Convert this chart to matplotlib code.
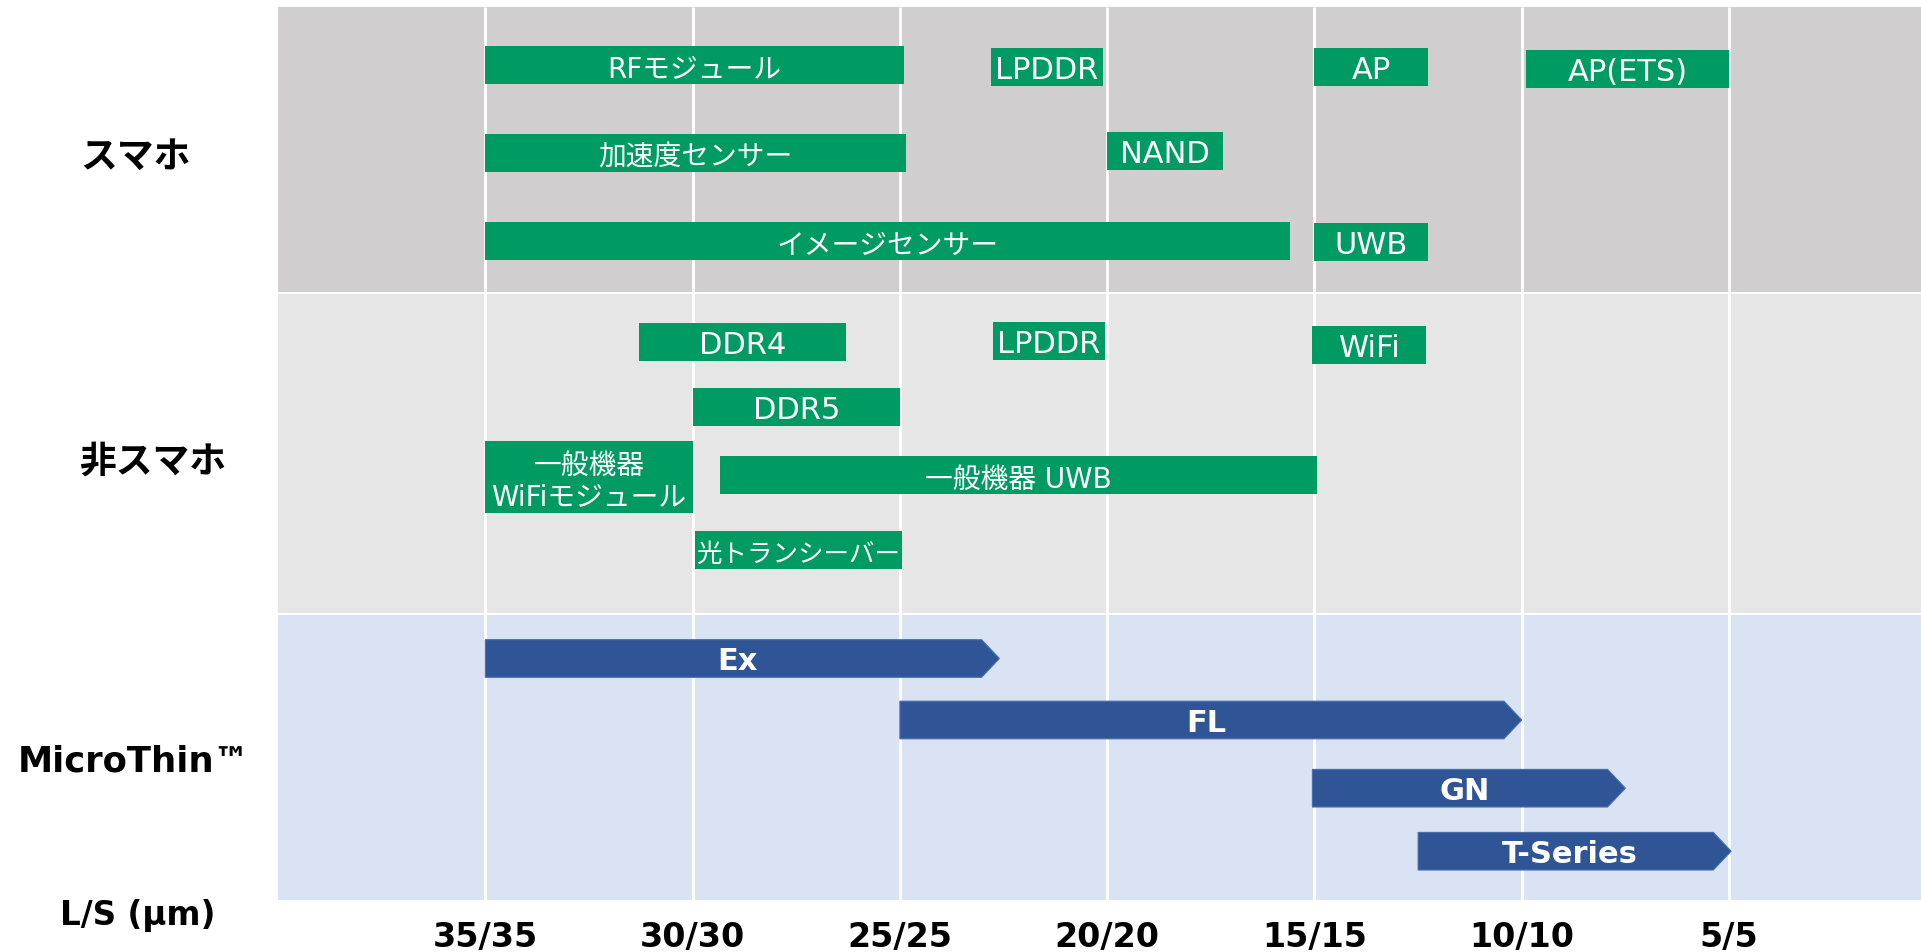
import matplotlib
matplotlib.use("Agg")
import matplotlib.pyplot as plt
from matplotlib.patches import Rectangle, Polygon

# ---------------- data ----------------
categories = ['スマホ', '非スマホ', 'MicroThin™']
axis_title = 'L/S (μm)'

tick_values = [35, 30, 25, 20, 15, 10, 5]
tick_labels = ['35/35', '30/30', '25/25', '20/20', '15/15', '10/10', '5/5']

smart_labels = ['RFモジュール', 'LPDDR', 'AP', 'AP(ETS)', '加速度センサー', 'NAND',
                'イメージセンサー', 'UWB']
smart_start = [35.0, 22.8, 15.0, 9.9, 35.0, 20.0, 35.0, 15.0]
smart_end = [24.9, 20.1, 12.25, 5.0, 24.85, 17.2, 15.6, 12.25]

non_labels = ['DDR4', 'LPDDR', 'WiFi', 'DDR5', '一般機器\nWiFiモジュール',
              '一般機器 UWB', '光トランシーバー']
non_start = [31.3, 22.75, 15.05, 30.0, 35.0, 29.35, 29.95]
non_end = [26.3, 20.05, 12.3, 25.0, 30.0, 14.95, 24.95]

mt_labels = ['Ex', 'FL', 'GN', 'T-Series']
mt_start = [35.0, 25.0, 15.05, 12.5]
mt_end = [22.6, 10.0, 7.5, 4.95]

# ---------------- layout (pixel rows, styles) ----------------
W, H = 1921, 952
smart_y = [64.9, 66.9, 66.9, 68.9, 152.9, 150.9, 240.9, 241.9]
smart_h = [37.7] * 8
non_y = [341.9, 340.9, 344.9, 406.9, 476.9, 474.9, 550.2]
non_h = [37.7, 37.7, 37.7, 37.7, 71.7, 37.7, 38.3]
mt_y = [658.5, 720.0, 788.2, 851.2]
mt_h = [37.6] * 4
bands = [(7, 291.5, '#D0CECE'), (294, 612.7, '#E7E6E6'), (615.3, 900, '#DAE3F3')]
cat_pos = [(80, 157), (79, 462), (18, 762)]
cat_size = [26.5, 26.5, 25.5]

GREEN = '#009B63'
BLUE = '#2F5597'
TIP = 0.43

fam = ['DejaVu Sans', 'Noto Sans CJK JP']
plt.rcParams['font.family'] = fam

fig = plt.figure(figsize=(W / 100, H / 100), dpi=100)
ax = fig.add_axes([278 / W, 1 - 900 / H, (W - 278) / W, 893 / H])
ax.set_xlim(40, 0.37)
ax.set_ylim(900, 7)
for s in ax.spines.values():
    s.set_visible(False)

for y0, y1, c in bands:
    ax.add_patch(Rectangle((40, y0), 0.37 - 40, y1 - y0, facecolor=c,
                           edgecolor='none', zorder=0))

ax.vlines(tick_values, 7, 900, colors='white', linewidth=2.0, zorder=1)

renderer = fig.canvas.get_renderer()


def green_bar(s, e, yc, h, label):
    ax.add_patch(Rectangle((s, yc - h / 2), e - s, h, facecolor=GREEN,
                           edgecolor='none', zorder=2))
    is_ascii = all(ord(ch) < 128 for ch in label)
    fs = 22 if is_ascii else 20
    dy = 4 if is_ascii else 5
    t = ax.text((s + e) / 2, yc + dy, label, ha='center', va='center',
                color='white', fontsize=fs, family=fam, zorder=3,
                linespacing=1.2)
    bar_px = abs(ax.transData.transform((e, 0))[0] - ax.transData.transform((s, 0))[0])
    tw = t.get_window_extent(renderer).width
    if tw > bar_px - 3:
        t.set_fontsize(fs * (bar_px - 3) / tw)


for lab, s, e, yc, h in zip(smart_labels, smart_start, smart_end, smart_y, smart_h):
    green_bar(s, e, yc, h, lab)
for lab, s, e, yc, h in zip(non_labels, non_start, non_end, non_y, non_h):
    green_bar(s, e, yc, h, lab)

for lab, s, e, yc, h in zip(mt_labels, mt_start, mt_end, mt_y, mt_h):
    body = e + TIP
    pts = [(s, yc - h / 2), (body, yc - h / 2), (e, yc), (body, yc + h / 2),
           (s, yc + h / 2)]
    ax.add_patch(Polygon(pts, closed=True, facecolor=BLUE, edgecolor='#4A6CB0',
                         linewidth=0.8, zorder=2))
    ax.text((s + e) / 2 + TIP / 4, yc + 3, lab, ha='center', va='center',
            color='white', fontsize=22, fontweight='bold', zorder=3)

ax.set_yticks([])
ax.set_xticks(tick_values)
ax.set_xticklabels(tick_labels, fontsize=24, fontweight='bold')
ax.tick_params(axis='x', length=0, pad=15)

for (px, py), txt, fs in zip(cat_pos, categories, cat_size):
    fig.text(px / W, 1 - py / H, txt, ha='left', va='center', fontsize=fs,
             fontweight='bold', family=fam)
fig.text(60 / W, 1 - 915 / H, axis_title, ha='left', va='center', fontsize=23.5,
         fontweight='bold', family=fam)

fig.savefig('out.png', dpi=100, facecolor='white')
